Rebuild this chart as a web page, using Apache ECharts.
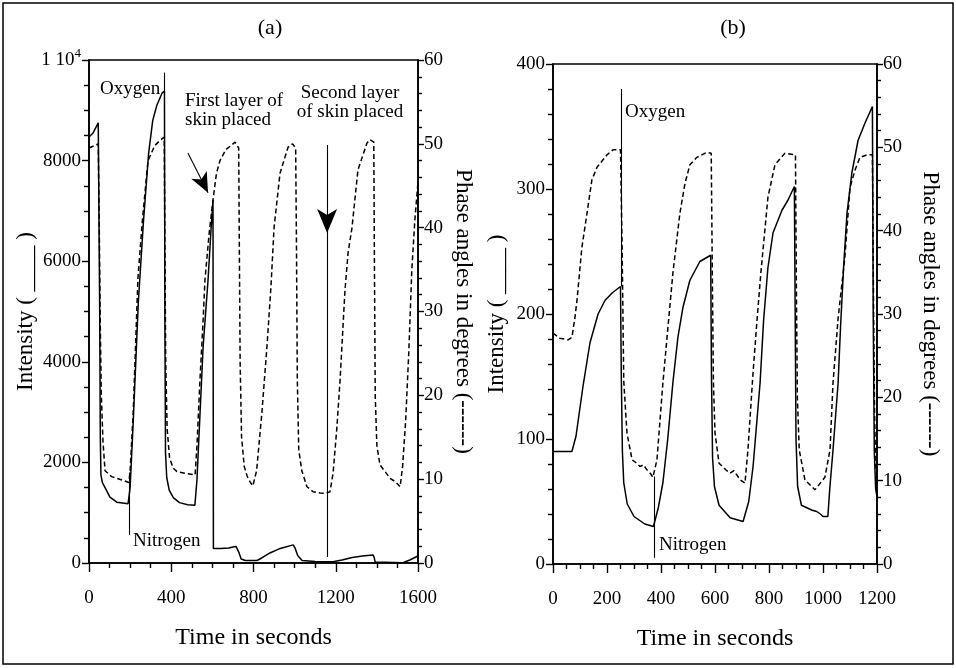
<!DOCTYPE html>
<html><head><meta charset="utf-8">
<script src="https://cdn.jsdelivr.net/npm/echarts@6/dist/echarts.min.js"></script>
<style>html,body{margin:0;padding:0;background:#fff}#c{width:956px;height:668px}</style>
</head><body><div id="c"></div>
<script>
// ---------- DATA ----------
// Panel (a): time (s) vs intensity (solid, left axis)
const aIntensity = [[0,8470],[20,8550],[45,8750],[49,8750],[52,5000],[55,2500],[58,1750],[65,1600],[78,1500],[102,1310],[135,1210],[190,1180],[195,1180],[200,1500],[215,2800],[240,5200],[265,6800],[290,8150],[310,8800],[330,9100],[355,9340],[367,9380],[369,5000],[372,2200],[378,1700],[390,1450],[410,1300],[440,1200],[480,1160],[515,1150],[525,1650],[540,2980],[555,4300],[579,5630],[593,6600],[603,7220],[605,290],[640,290],[680,300],[700,320],[715,330],[722,330],[730,200],[740,80],[760,50],[817,50],[840,100],[880,200],[930,290],[993,360],[1002,300],[1015,150],[1036,50],[1100,30],[1187,25],[1230,60],[1280,110],[1330,140],[1381,160],[1386,120],[1392,20],[1400,5],[1527,5],[1560,60],[1600,140]];
// Panel (a): time (s) vs phase angle (dashed, right axis)
const aPhase = [[0,49.5],[45,50],[50,40],[55,28],[60,20],[68,14.5],[78,11],[110,10.3],[160,9.9],[194,9.6],[200,11],[215,18],[238,34],[260,41],[287,48],[320,49.8],[345,50.4],[366,50.8],[369,38],[373,24],[380,16],[392,12.5],[410,11.3],[428,10.9],[470,10.7],[516,10.5],[525,14],[540,22],[555,29],[564,33.8],[585,39.5],[603,43.3],[620,46.5],[637,48],[665,49.3],[696,49.9],[710,50.2],[728,49.5],[731,38],[735,24],[742,15],[755,11.5],[770,10.3],[785,9.6],[797,9.2],[815,11],[830,15],[841,18],[866,26],[885,33],[900,40],[929,46.5],[968,49.6],[990,50],[1005,49.5],[1009,38],[1013,22],[1020,13.5],[1035,11],[1060,9.1],[1090,8.5],[1124,8.35],[1150,8.3],[1172,8.5],[1187,10.7],[1205,16],[1221,21.8],[1245,32.6],[1260,37],[1279,40],[1308,46.9],[1352,50.1],[1367,50.5],[1385,50.2],[1388,36],[1392,20],[1400,14],[1415,11.7],[1440,10.9],[1464,10.1],[1490,9.7],[1513,9.1],[1525,11.5],[1540,17],[1555,25],[1570,35],[1585,41],[1600,45.5]];
// Panel (b): time (s) vs intensity (solid, left axis)
const bIntensity = [[0,90],[70,90],[85,102],[111,142],[137,177],[167,200],[193,211],[220,217],[250,222],[253,150],[257,90],[262,65],[275,48],[300,38],[340,32],[372,30],[378,31],[390,45],[407,65],[425,100],[444,145],[463,182],[481,205],[507,227],[544,242],[584,247],[587,150],[591,85],[598,62],[615,47],[656,37],[704,34],[711,35],[725,50],[741,78],[767,145],[780,195],[796,237],[815,265],[848,283],[870,291],[894,302],[897,200],[900,100],[906,62],[920,47],[960,43],[977,42],[990,40],[1000,38],[1018,38],[1025,60],[1037,91],[1056,145],[1065,190],[1077,240],[1089,281],[1107,313],[1130,339],[1156,353],[1183,366],[1186,200],[1190,90],[1195,60],[1200,54]];
// Panel (b): time (s) vs phase angle (dashed, right axis)
const bPhase = [[0,27.7],[25,27.1],[56,26.9],[70,27.2],[81,29.5],[89,31.7],[107,38],[126,42.1],[144,46.1],[163,47.6],[200,49.1],[222,49.7],[250,49.7],[256,38],[262,22],[274,15.7],[293,12.5],[310,12.1],[322,11.7],[335,11.9],[348,11.3],[360,10.9],[370,10.4],[385,12.5],[407,21.7],[426,28.5],[444,34.9],[470,42.1],[489,45.7],[507,47.9],[533,48.8],[570,49.4],[586,49.3],[590,35],[594,22],[600,15.7],[615,12.1],[640,11.3],[656,10.9],[670,11.2],[693,10.1],[711,9.7],[722,13.7],[741,23],[755,29],[770,35],[796,44],[822,47.9],[859,49.3],[898,49.1],[901,35],[905,20],[912,13.7],[933,10.1],[955,9.4],[970,8.9],[977,8.7],[985,9.5],[1007,10.4],[1026,13.7],[1037,21.7],[1056,29.5],[1081,36.8],[1100,45.2],[1119,47.3],[1137,48.8],[1163,49.1],[1183,49.1],[1187,32],[1191,18],[1195,12],[1200,10]];
// Axis ranges / ticks
const aTimeTicks = {min:0, max:1600, interval:400};
const bTimeTicks = {min:0, max:1200, interval:200};
const aIntTicks = {min:0, max:10000, interval:2000};
const bIntTicks = {min:0, max:400, interval:100};
const phaseTicks = {min:0, max:60, interval:10};
// Event markers [time, from value, to value]
const aOxygenMark = [365, 9750, 9340];
const aNitrogenMark = [195, 1800, 560];
const aFirstArrow = [[481, 8150], [579, 7360]];
const aSecondArrow = [1158, 8310, 6560, 120];
const bOxygenMark = [252, 380, 222];
const bNitrogenMark = [374, 70, 5];

// ---------- CHART ----------
const FONT = 'Liberation Serif';
const BLACK = '#000';
const chart = echarts.init(document.getElementById('c'), null, {renderer:'canvas'});
const plain = function(v){ return String(v); };

function xAxisCfg(grid, ticks, minorSplit){
  return {type:'value', gridIndex:grid, min:ticks.min, max:ticks.max, interval:ticks.interval,
    name:'Time in seconds', nameLocation:'middle', nameGap:63,
    nameTextStyle:{fontFamily:FONT, fontSize:24, color:BLACK},
    axisLine:{show:true, onZero:false, lineStyle:{color:BLACK, width:1.6}},
    axisTick:{show:true, length:9, lineStyle:{color:BLACK, width:1.4}},
    minorTick:{show:true, splitNumber:minorSplit, length:5, lineStyle:{color:BLACK, width:1.4}},
    axisLabel:{fontFamily:FONT, fontSize:19, color:BLACK, margin:26, formatter:plain},
    splitLine:{show:false}};
}
function yLeftCfg(grid, ticks, minorSplit, fmt, gap){
  return {type:'value', gridIndex:grid, position:'left', min:ticks.min, max:ticks.max, interval:ticks.interval,
    name:'Intensity ( ____ )', nameLocation:'middle', nameRotate:90, nameGap:gap,
    nameTextStyle:{fontFamily:FONT, fontSize:23, color:BLACK},
    axisLine:{show:true, onZero:false, lineStyle:{color:BLACK, width:1.6}},
    axisTick:{show:true, length:7, lineStyle:{color:BLACK, width:1.4}},
    minorTick:{show:true, splitNumber:minorSplit, length:5, lineStyle:{color:BLACK, width:1.4}},
    axisLabel:{fontFamily:FONT, fontSize:19, color:BLACK, margin:8, formatter:fmt,
      rich:{b:{fontFamily:FONT, fontSize:19, color:BLACK}, s:{fontFamily:FONT, fontSize:13, color:BLACK, verticalAlign:'top', padding:[0,0,12,0]}}},
    splitLine:{show:false}};
}
function yRightCfg(grid, gap){
  return {type:'value', gridIndex:grid, position:'right', min:phaseTicks.min, max:phaseTicks.max, interval:phaseTicks.interval,
    name:'Phase angles in degrees (------)', nameLocation:'middle', nameRotate:-90, nameGap:gap,
    nameTextStyle:{fontFamily:FONT, fontSize:23, color:BLACK},
    axisLine:{show:true, onZero:false, lineStyle:{color:BLACK, width:1.6}},
    axisTick:{show:true, length:6, lineStyle:{color:BLACK, width:1.4}},
    minorTick:{show:true, splitNumber:5, length:4, lineStyle:{color:BLACK, width:1.4}},
    axisLabel:{fontFamily:FONT, fontSize:19, color:BLACK, margin:6, formatter:plain},
    splitLine:{show:false}};
}
const thin = {color:BLACK, width:1.1, type:'solid'};
function vline(t, v1, v2){ return [{coord:[t, v1], symbol:'none'}, {coord:[t, v2], symbol:'none'}]; }

const option = {
  animation:false,
  backgroundColor:'#fff',
  grid:[
    {left:89, top:60, width:329, height:503, show:true, borderColor:BLACK, borderWidth:1.6, backgroundColor:'transparent'},
    {left:553, top:64, width:324, height:500, show:true, borderColor:BLACK, borderWidth:1.6, backgroundColor:'transparent'}
  ],
  xAxis:[xAxisCfg(0, aTimeTicks, 4), xAxisCfg(1, bTimeTicks, 4)],
  yAxis:[
    yLeftCfg(0, aIntTicks, 4, function(v){ return v === 10000 ? '{b|1 10}{s|4}' : String(v); }, 46),
    yRightCfg(0, 34),
    yLeftCfg(1, bIntTicks, 5, plain, 45),
    yRightCfg(1, 42)
  ],
  series:[
    {type:'line', xAxisIndex:0, yAxisIndex:0, data:aIntensity, showSymbol:false, symbol:'none',
      lineStyle:{color:BLACK, width:1.5}, z:3,
      markLine:{silent:true, animation:false, label:{show:false}, lineStyle:thin,
        data:[
          vline(aOxygenMark[0], aOxygenMark[1], aOxygenMark[2]),
          vline(aNitrogenMark[0], aNitrogenMark[1], aNitrogenMark[2]),
          [{coord:aFirstArrow[0], symbol:'none'}, {coord:aFirstArrow[1], symbol:'arrow', symbolSize:[13,20]}],
          [{coord:[aSecondArrow[0], aSecondArrow[1]], symbol:'none'}, {coord:[aSecondArrow[0], aSecondArrow[2]], symbol:'arrow', symbolSize:[15,24]}],
          vline(aSecondArrow[0], aSecondArrow[2], aSecondArrow[3])
        ]}},
    {type:'line', xAxisIndex:0, yAxisIndex:1, data:aPhase, showSymbol:false, symbol:'none',
      lineStyle:{color:BLACK, width:1.5, type:[5,3]}, z:2},
    {type:'line', xAxisIndex:1, yAxisIndex:2, data:bIntensity, showSymbol:false, symbol:'none',
      lineStyle:{color:BLACK, width:1.5}, z:3,
      markLine:{silent:true, animation:false, label:{show:false}, lineStyle:thin,
        data:[
          vline(bOxygenMark[0], bOxygenMark[1], bOxygenMark[2]),
          vline(bNitrogenMark[0], bNitrogenMark[1], bNitrogenMark[2])
        ]}},
    {type:'line', xAxisIndex:1, yAxisIndex:3, data:bPhase, showSymbol:false, symbol:'none',
      lineStyle:{color:BLACK, width:1.5, type:[5,3]}, z:2}
  ],
  graphic:[
    {type:'rect', shape:{x:3, y:3, width:950, height:661}, style:{fill:'none', stroke:BLACK, lineWidth:1.5}, silent:true},
    {type:'text', x:270, y:28, style:{text:'(a)', font:'22px "Liberation Serif"', fill:BLACK, textAlign:'center', textVerticalAlign:'middle'}},
    {type:'text', x:733, y:28, style:{text:'(b)', font:'22px "Liberation Serif"', fill:BLACK, textAlign:'center', textVerticalAlign:'middle'}},
    {type:'text', x:100, y:89, style:{text:'Oxygen', font:'19px "Liberation Serif"', fill:BLACK, textAlign:'left', textVerticalAlign:'middle'}},
    {type:'text', x:133, y:541, style:{text:'Nitrogen', font:'19px "Liberation Serif"', fill:BLACK, textAlign:'left', textVerticalAlign:'middle'}},
    {type:'text', x:185, y:92, style:{text:'First layer of\nskin placed', font:'19px "Liberation Serif"', lineHeight:19, fill:BLACK, textAlign:'left', textVerticalAlign:'top'}},
    {type:'text', x:350, y:84, style:{text:'Second layer\nof skin placed', font:'19px "Liberation Serif"', lineHeight:19, fill:BLACK, textAlign:'center', textVerticalAlign:'top'}},
    {type:'text', x:625, y:112, style:{text:'Oxygen', font:'19px "Liberation Serif"', fill:BLACK, textAlign:'left', textVerticalAlign:'middle'}},
    {type:'text', x:659, y:545, style:{text:'Nitrogen', font:'19px "Liberation Serif"', fill:BLACK, textAlign:'left', textVerticalAlign:'middle'}}
  ]
};
chart.setOption(option);
</script>
</body></html>
